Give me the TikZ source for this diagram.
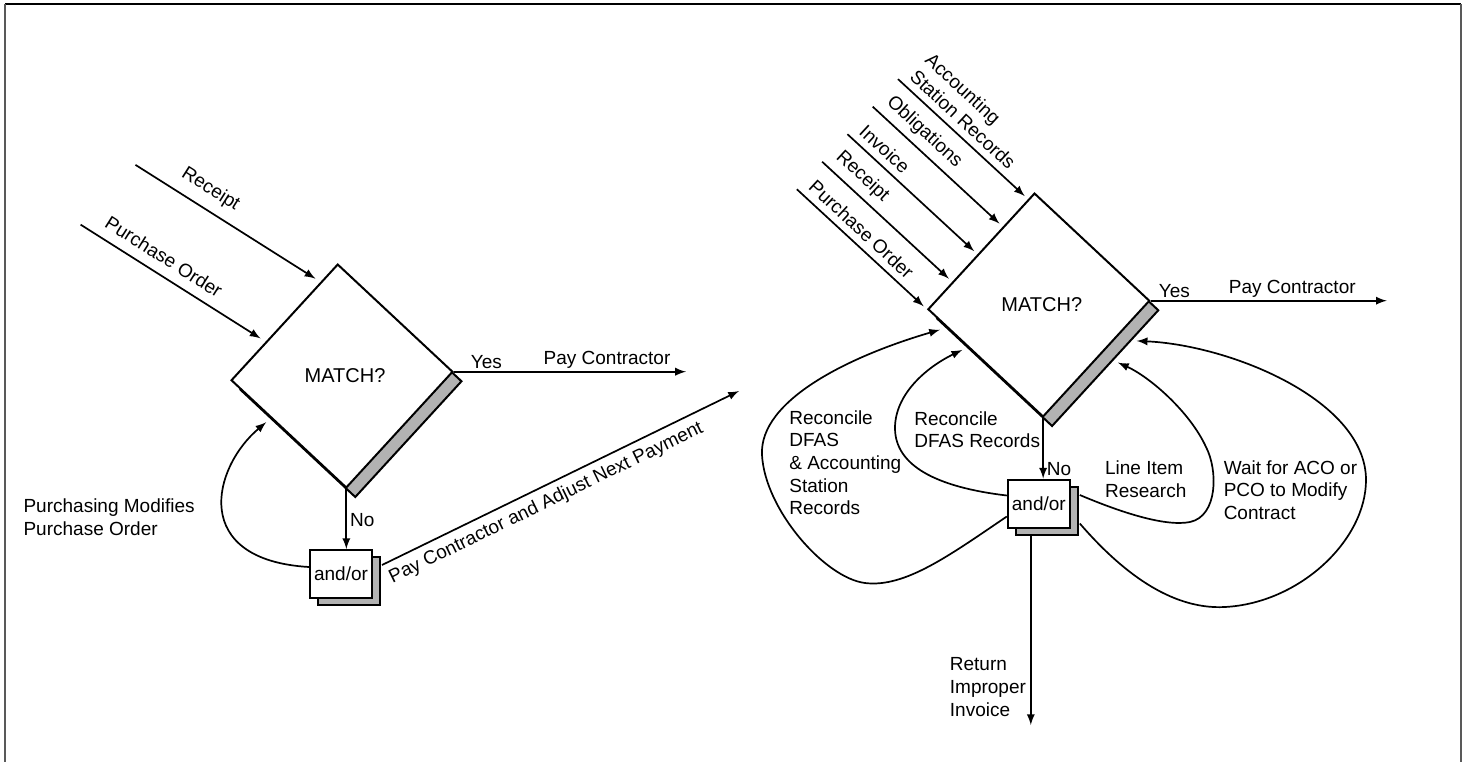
\documentclass[tikz,border=0pt]{standalone}
\usepackage{fontspec}
\setmainfont{Liberation Sans}
\usepackage{tikz}
\usetikzlibrary{calc,arrows,shapes.geometric,shadows}

\tikzset{
  lbl/.style={font=\fontsize{9.5}{11.3}\selectfont, align=left},
  matchbox/.style={diamond, draw, fill=white, line width=1pt, inner sep=0pt,
    minimum width=111pt, minimum height=112pt, rotate=2.2,
    copy shadow={shadow xshift=4.5pt, shadow yshift=-4.75pt, fill=black!30, draw=black, line width=1pt}},
  andor/.style={rectangle, draw, fill=white, line width=1pt, inner sep=1pt,
    minimum width=31pt, minimum height=24pt, font=\fontsize{9.5}{11.3}\selectfont,
    copy shadow={shadow xshift=4pt, shadow yshift=-3.5pt, fill=black!30, draw=black, line width=1pt}},
  flow/.style={-latex, line width=0.85pt}
}

\begin{document}
\begin{tikzpicture}[x=0.5pt,y=-0.5pt]
\useasboundingbox (0,0) rectangle (1468,761);
% frame
\draw[line width=0.65pt] (5,4) -- (1461,4);
\draw[line width=1.1pt, black!65] (5,4) -- (5,775);
\draw[line width=1.1pt, black!65] (1461,4) -- (1461,775);

% left: two documents
\node[matchbox] (m1) at (342,376) {};
\node[font=\fontsize{10}{12}\selectfont] (t1) at ([xshift=1.5pt]m1.center) {MATCH?};
\node[andor] (ab1) at (341,574) {and/or};

\foreach \f/\txt/\p [count=\i] in {0.33/{Purchase Order}/0.4, 0.84/Receipt/0.35}
{
  \coordinate (e\i) at ($(m1.west)!\f!(m1.north)$);
  \draw[flow, shorten >=3pt] ($(e\i)+(-185,-117)$) -- (e\i) node[lbl, sloped, above=1.5pt, pos=\p] (il\i) {\txt};
}

\coordinate (pay1) at ($(m1.east)+(232,0)$);
\draw[flow] (m1.east) -- (pay1) node[lbl, pos=0.14, above, inner sep=1pt] (y1) {Yes}
  node[lbl, pos=0.66, above, inner sep=1pt] (pc1) {Pay Contractor};
\draw[flow] (m1.south) -- (m1.south |- ab1.north) node[lbl, pos=0.52, right, inner sep=1.5pt] (no1) {No};

\coordinate (adj) at (739,391);
\draw[flow] ([xshift=4.5pt,yshift=4.5pt]ab1.east) -- (adj)
  node[lbl, sloped, below, pos=0.44] (pa1) {Pay Contractor and Adjust Next Payment};

\draw[flow, shorten >=3pt] ([yshift=3.5pt]ab1.west) .. controls (190,560) and (212,468) .. ($(m1.west)!0.35!(m1.south)$);
\node[lbl, anchor=west] (pmo) at (16.5,517) {Purchasing Modifies\\Purchase Order};

% right: five documents
\node[matchbox] (m2) at (1038.8,305) {};
\node[font=\fontsize{10}{12}\selectfont] (t2) at ([xshift=1.5pt]m2.center) {MATCH?};
\node[andor] (ab2) at (1038.8,503.5) {and/or};

\foreach \f/\txt [count=\i] in {0/{Purchase Order}, 0.235/Receipt, 0.47/Invoice, 0.705/Obligations, 0.94/{Accounting\\Station Records}}
{
  \coordinate (r\i) at ($(m2.west)!\f!(m2.north)$);
  \draw[flow, shorten >=2.25pt] ($(r\i)+(-130,-120)$) -- (r\i) node[lbl, sloped, pos=0, anchor=south west] (rl\i) {\txt};
}

\coordinate (pay2) at ($(m2.east)+(236,0)$);
\draw[flow] (m2.east) -- (pay2) node[lbl, pos=0.1, above, inner sep=1pt] (y2) {Yes}
  node[lbl, pos=0.6, above, inner sep=1pt] (pc2) {Pay Contractor};
\draw[flow] (m2.south) -- (m2.south |- ab2.north) node[lbl, pos=0.85, right, inner sep=1.5pt] (no2) {No};

\coordinate (ret) at ($(ab2.south)+(-8,196.5)$);
\draw[flow] ([xshift=-4pt,yshift=-3.5pt]ab2.south) -- (ret) node[lbl, pos=0.8, left, inner sep=2pt] (rii) {Return\\Improper\\Invoice};

% loops back to the match
\draw[flow, shorten >=3.5pt] ([yshift=-6.5pt]ab2.west) .. controls (950,555) and (905,588) .. (865,583)
  .. controls (825,578) and (765,510) .. (762,455) .. controls (759,400) and (850,356) .. ($(m2.west)!0.17!(m2.south)$);
\draw[flow, shorten >=3pt] ([yshift=4pt]ab2.west) .. controls (935,487) and (895,465) .. (895,428)
  .. controls (895,395) and (925,368) .. ($(m2.west)!0.35!(m2.south)$);
\draw[flow, shorten >=2.5pt] ([xshift=4.5pt,yshift=4.25pt]ab2.east) .. controls (1120,512) and (1165,527) .. (1190,522)
  .. controls (1218,516) and (1218,470) .. (1206,447) .. controls (1190,412) and (1150,377) .. ($(m2.south)!0.57!(m2.east)+(9,9.5)$);
\draw[flow, shorten >=2.5pt] ([xshift=4.5pt,yshift=-10pt]ab2.east) .. controls (1120,570) and (1170,610) .. (1225,607)
  .. controls (1300,603) and (1366,540) .. (1366,480) .. controls (1366,400) and (1230,345) .. ($(m2.south)!0.74!(m2.east)+(9,9.5)$);

\node[lbl, anchor=west] (rec1) at (782.3,462.7) {Reconcile\\DFAS\\\& Accounting\\Station\\Records};
\node[lbl, anchor=west] (rec2) at (907.3,429.7) {Reconcile\\DFAS Records};
\node[lbl, anchor=west] (lir) at (1098,479.2) {Line Item\\Research};
\node[lbl, anchor=west] (wco) at (1216.7,490) {Wait for ACO or\\PCO to Modify\\Contract};
\end{tikzpicture}
\end{document}
